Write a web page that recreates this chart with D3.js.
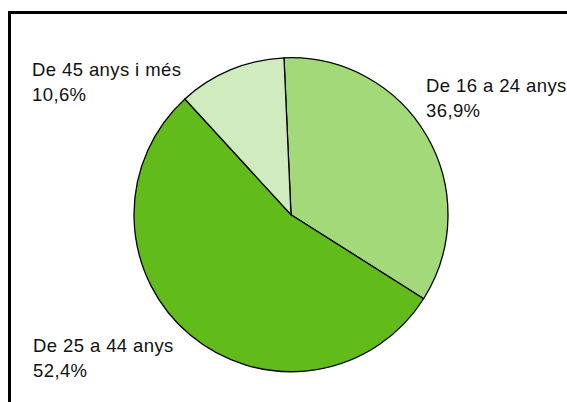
<!DOCTYPE html>
<html>
<head>
<meta charset="utf-8">
<script src="https://cdn.jsdelivr.net/npm/d3@7"></script>
<style>
  html, body { margin: 0; padding: 0; background: #fff; }
  svg { display: block; }
  text { font-family: Arial, "Liberation Sans", sans-serif; fill: #111; }
</style>
</head>
<body>
<div id="chart"></div>
<script>
// age groups, shares shown in labels, and slice sizes as drawn
const categories = ['De 16 a 24 anys', 'De 25 a 44 anys', 'De 45 anys i més'];
const shareLabels = ['36,9%', '52,4%', '10,6%'];
const sliceValues = [34.7, 54.2, 11.1];
const colors = ['#a3d978', '#61bb1b', '#d0ecbf'];

const width = 567, height = 402;
const cx = 291, cy = 214.7, radius = 157;
const startAngle = -2.56 * Math.PI / 180;

// label anchors (x, first baseline), one per category
const labelPos = [[426, 92], [33, 352], [32, 76]];
const lineGap = 24.5;

const svg = d3.select('#chart').append('svg')
    .attr('width', width)
    .attr('height', height);

// frame (only top and left edge visible)
svg.append('rect')
    .attr('x', 9.5).attr('y', 12.5)
    .attr('width', 800).attr('height', 800)
    .attr('fill', 'none')
    .attr('stroke', '#000')
    .attr('stroke-width', 3);

const pie = d3.pie()
    .sort(null)
    .value(d => d)
    .startAngle(startAngle)
    .endAngle(startAngle + 2 * Math.PI);

const arc = d3.arc().innerRadius(0).outerRadius(radius);

const g = svg.append('g')
    .attr('transform', `translate(${cx},${cy})`);

g.selectAll('path.slice')
    .data(pie(sliceValues))
    .join('path')
    .attr('class', 'slice')
    .attr('d', arc)
    .attr('fill', (d, i) => colors[i])
    .attr('stroke', '#000')
    .attr('stroke-width', 1.3)
    .attr('stroke-linejoin', 'miter');

const labels = svg.selectAll('text.label')
    .data(categories)
    .join('text')
    .attr('class', 'label')
    .attr('font-size', 18.5)
    .attr('letter-spacing', 0.4);

labels.append('tspan')
    .attr('x', (d, i) => labelPos[i][0])
    .attr('y', (d, i) => labelPos[i][1])
    .text(d => d);

labels.append('tspan')
    .attr('x', (d, i) => labelPos[i][0])
    .attr('y', (d, i) => labelPos[i][1] + lineGap)
    .text((d, i) => shareLabels[i]);
</script>
</body>
</html>
